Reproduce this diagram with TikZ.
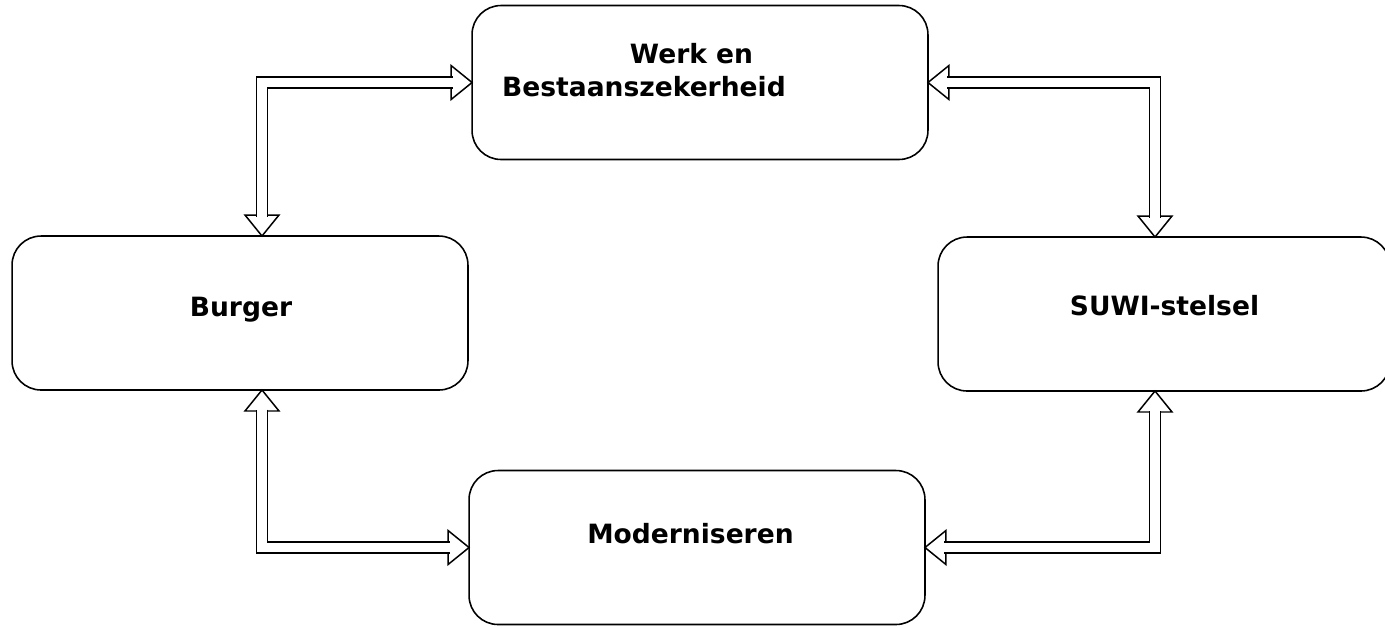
\documentclass[tikz,border=0pt]{standalone}
\usepackage{fontspec}
\setmainfont{DejaVu Sans}
\usepackage{tikz}
\usetikzlibrary{positioning,calc}

\begin{document}
\begin{tikzpicture}[x=0.02cm,y=-0.02cm,
  box/.style={draw,rounded corners=0.58cm,line width=0.9pt,inner sep=0pt,outer sep=0pt,
    minimum width=9.12cm,minimum height=3.08cm},
  lbl/.style={font=\bfseries\fontsize{15.1}{18}\selectfont,inner sep=0pt,anchor=base},
  head/.style={draw,fill=white,line width=0.85pt,line join=miter},
  shaft/.style={draw,line width=0.85pt,double=white,double distance=5.3pt,line join=miter}]
\useasboundingbox (0,0) rectangle (1385,627);

% boxes
\node[box] (werk) at (700,82.5) {};
\node[box] (burger) at (240,313) {};
\node[box,minimum width=9.04cm] (suwi) at (1164,314) {};
\node[box] (moder) at (697,547.5) {};

% texts
\node[lbl] (werktxt) at ($(werk.center)+(-8.5,-19.5)$) {Werk en};
\node[lbl] (bestaantxt) at ($(werk.center)+(-56,13.5)$) {Bestaanszekerheid};
\node[lbl] (burgertxt) at ($(burger.center)+(1,3)$) {Burger};
\node[lbl] (suwitxt) at ($(suwi.center)+(0.5,1)$) {SUWI-stelsel};
\node[lbl] (modertxt) at ($(moder.center)+(-6.5,-4.5)$) {Moderniseren};

% arrow ends on the boxes
\coordinate (bw) at ($(burger.north)+(22,0)$);
\coordinate (bm) at ($(burger.south)+(22,0)$);
\coordinate (sw) at ($(suwi.north)+(-9,0)$);
\coordinate (sm) at ($(suwi.south)+(-9,0)$);

% heads
\draw[head] (bw) -- ++(-17,-21) -- ++(34,0) -- cycle;
\draw[head] (werk.west) -- ++(-21,-17) -- ++(0,34) -- cycle;
\draw[head] (werk.east) -- ++(21,-17) -- ++(0,34) -- cycle;
\draw[head] (sw) -- ++(-17,-21) -- ++(34,0) -- cycle;
\draw[head] (bm) -- ++(-17,21) -- ++(34,0) -- cycle;
\draw[head] (moder.west) -- ++(-21,-17) -- ++(0,34) -- cycle;
\draw[head] (sm) -- ++(-17,21) -- ++(34,0) -- cycle;
\draw[head] (moder.east) -- ++(21,-17) -- ++(0,34) -- cycle;

% shafts
\draw[shaft] ($(bw)+(0,-19.5)$) |- ($(werk.west)+(-19.5,0)$);
\draw[shaft] ($(werk.east)+(19.5,0)$) -| ($(sw)+(0,-19.5)$);
\draw[shaft] ($(bm)+(0,19.5)$) |- ($(moder.west)+(-19.5,0)$);
\draw[shaft] ($(moder.east)+(19.5,0)$) -| ($(sm)+(0,19.5)$);
\end{tikzpicture}
\end{document}
